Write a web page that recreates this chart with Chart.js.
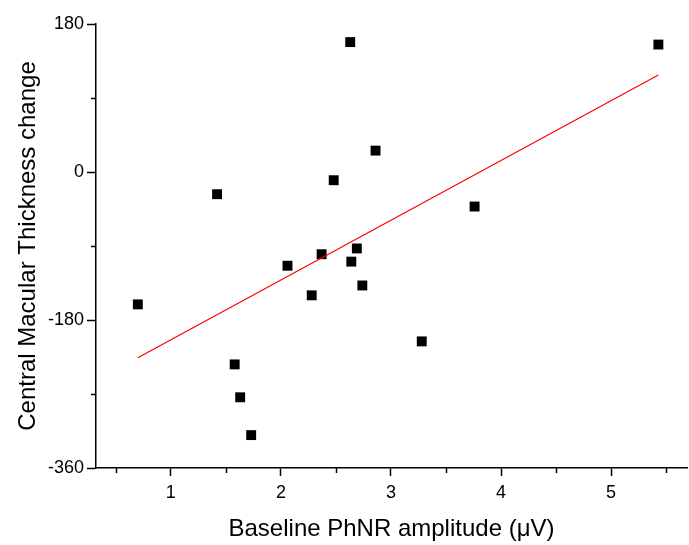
<!DOCTYPE html>
<html>
<head>
<meta charset="utf-8">
<script src="https://cdn.jsdelivr.net/npm/chart.js@4/dist/chart.umd.min.js"></script>
<style>
	html, body { margin: 0; padding: 0; background: #fff; }
	#wrap { width: 689px; height: 545px; }
</style>
</head>
<body>
<div id="wrap"><canvas id="myChartScatter" width="689" height="545"></canvas></div>
<script>
// values
var phnrAmplitude = [0.70, 1.42, 1.58, 1.63, 1.73, 2.06, 2.28, 2.37, 2.48, 2.64, 2.69, 2.74, 2.86, 2.63, 3.28, 3.76, 5.43];
var thicknessChange = [-161, -27, -234, -274, -320, -114, -150, -100, -10, -109, -93, -138, 26, 158, -206, -42, 155];

// fitted line, end points as drawn
var fitX = [0.70, 5.43];
var fitY = [-226, 118];

var xMin = 0.32, xMax = 5.69;
var yMin = -360, yMax = 180;

var fontFamily = 'Arial, "Liberation Sans", sans-serif';

function toPoints(xs, ys) {
	return xs.map(function (x, i) { return { x: x, y: ys[i] }; });
}

function isMajorX(v) { return Math.abs(v - Math.round(v)) < 1e-6; }
function isMajorY(v) { return v % 180 === 0; }

// short minor tick marks, Chart.js only has one tick length
var minorTicks = {
	id: 'minorTicks',
	afterDraw: function (chart) {
		var ctx = chart.ctx;
		var xs = chart.scales.x, ys = chart.scales.y;
		ctx.save();
		ctx.strokeStyle = '#000';
		ctx.lineWidth = 1.5;
		ctx.beginPath();
		xs.ticks.forEach(function (t) {
			if (isMajorX(t.value)) return;
			var px = Math.round(xs.getPixelForValue(t.value)) + 0.5;
			ctx.moveTo(px, xs.top);
			ctx.lineTo(px, xs.top + 5);
		});
		ys.ticks.forEach(function (t) {
			if (isMajorY(t.value)) return;
			var py = Math.round(ys.getPixelForValue(t.value)) + 0.5;
			ctx.moveTo(ys.right, py);
			ctx.lineTo(ys.right - 5, py);
		});
		ctx.stroke();
		ctx.restore();
	}
};

var ctx = document.getElementById('myChartScatter').getContext('2d');
new Chart(ctx, {
	type: 'scatter',
	data: {
		datasets: [{
			type: 'line',
			data: toPoints(fitX, fitY),
			borderColor: 'rgb(255, 0, 0)',
			borderWidth: 1.2,
			pointRadius: 0,
			fill: false,
			order: 0
		}, {
			data: toPoints(phnrAmplitude, thicknessChange),
			pointStyle: 'rect',
			pointRadius: 7,
			pointBorderWidth: 0,
			backgroundColor: '#000',
			borderColor: '#000',
			order: 1
		}]
	},
	options: {
		responsive: false,
		animation: false,
		events: [],
		layout: { autoPadding: false, padding: { top: 24, right: 2, left: 0, bottom: 0 } },
		plugins: {
			legend: { display: false },
			tooltip: { enabled: false }
		},
		scales: {
			x: {
				type: 'linear',
				min: xMin,
				max: xMax,
				afterFit: function (scale) { scale.height = 77; },
				border: { color: '#000', width: 1.5 },
				grid: {
					drawOnChartArea: false,
					drawTicks: true,
					tickLength: 8,
					tickWidth: 1.5,
					tickColor: function (c) { return isMajorX(c.tick.value) ? '#000' : 'rgba(0,0,0,0)'; }
				},
				ticks: {
					stepSize: 0.5,
					includeBounds: false,
					autoSkip: false,
					maxRotation: 0,
					padding: 6,
					color: '#000',
					font: { family: fontFamily, size: 18 },
					callback: function (v) { return isMajorX(v) ? String(Math.round(v)) : ''; }
				},
				title: {
					display: true,
					text: 'Baseline PhNR amplitude (\u03bcV)',
					color: '#000',
					font: { family: fontFamily, size: 24 },
					padding: { top: 0, bottom: 1 }
				}
			},
			y: {
				type: 'linear',
				min: yMin,
				max: yMax,
				afterFit: function (scale) { scale.width = 96; },
				border: { color: '#000', width: 1.5 },
				grid: {
					drawOnChartArea: false,
					drawTicks: true,
					tickLength: 9,
					tickWidth: 1.5,
					tickColor: function (c) { return isMajorY(c.tick.value) ? '#000' : 'rgba(0,0,0,0)'; }
				},
				ticks: {
					stepSize: 90,
					autoSkip: false,
					padding: 3,
					color: '#000',
					font: { family: fontFamily, size: 18 },
					callback: function (v) { return isMajorY(v) ? String(v) : ''; }
				},
				title: {
					display: true,
					text: 'Central Macular Thickness change',
					color: '#000',
					font: { family: fontFamily, size: 24 },
					padding: { top: 14, bottom: 0 }
				}
			}
		}
	},
	plugins: [minorTicks]
});
</script>
</body>
</html>
